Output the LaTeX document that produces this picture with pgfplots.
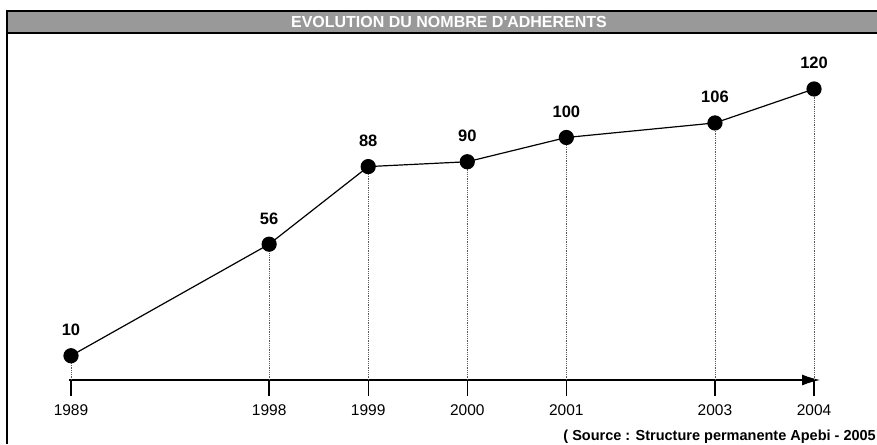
\documentclass[border=0pt]{standalone}
\usepackage{pgfplots}
\pgfplotsset{compat=1.18}
\usepackage{fontspec}
\setmainfont{Liberation Sans}
\usetikzlibrary{arrows.meta}
\definecolor{titlegray}{HTML}{999999}
\begin{document}
\begin{tikzpicture}[x=1pt,y=1pt]
\fill[titlegray] (6.8,411) rectangle (877,433);
\draw[line width=1.6pt] (6.8,0) -- (6.8,433) -- (877,433);
\draw[line width=1.6pt] (6.8,411) -- (877,411);
\node[font=\bfseries\fontsize{16}{16}\selectfont, text=white] at (449,422) {EVOLUTION DU NOMBRE D\textquotesingle ADHERENTS};
\node[font=\bfseries\fontsize{14.5}{14.5}\selectfont, anchor=base east, inner sep=0pt] at (876,4) {( Source : Structure permanente Apebi - 2005};
\begin{axis}[at={(69pt,0pt)}, anchor=south west, scale only axis,
  width=751pt, height=444pt,
  xmin=-0.0202, xmax=7.5603, ymin=-26.39, ymax=156.70, enlargelimits=false,
  axis x line=middle, axis y line=none, clip=false,
  x axis line style={line width=1.2pt, -{Latex[length=18pt,width=11pt]}},
  xtick={0,2,3,4,5,6.5,7.5},
  xticklabels={1989,1998,1999,2000,2001,2003,2004},
  xtick align=outside, major tick length=16pt,
  tick style={line width=1.3pt, black},
  xticklabel style={font=\fontsize{15.5}{15.5}\selectfont, yshift=-5pt},
  /pgf/number format/assume math mode=true,
  nodes near coords style={font=\bfseries\fontsize{16.5}{16.5}\selectfont, anchor=south, yshift=16pt},
]
\addplot[ycomb, densely dotted, black!65, line width=0.8pt, forget plot] coordinates {
 (0,10) (2,56) (3,88) (4,90) (5,100) (6.5,106) (7.5,120)};
\addplot[black, line width=1.2pt, mark=*, mark size=7pt, nodes near coords] coordinates {
 (0,10) (2,56) (3,88) (4,90) (5,100) (6.5,106) (7.5,120)};
\end{axis}
\pgfresetboundingbox
\path[use as bounding box] (0,0) rectangle (877,444);
\end{tikzpicture}
\end{document}
